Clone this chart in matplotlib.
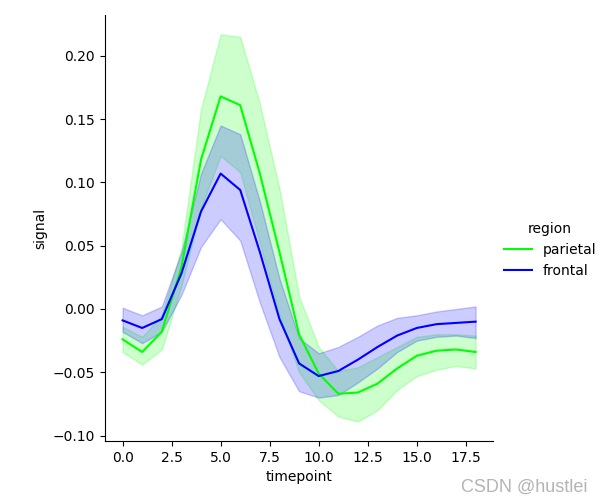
import matplotlib.pyplot as plt

timepoint = list(range(19))

# parietal
par_mean = [-0.024, -0.034, -0.018, 0.033, 0.118, 0.168, 0.161, 0.107, 0.045, -0.020,
            -0.051, -0.067, -0.066, -0.059, -0.047, -0.037, -0.033, -0.032, -0.034]
par_low = [-0.034, -0.044, -0.032, 0.018, 0.080, 0.121, 0.108, 0.052, -0.005, -0.050,
           -0.072, -0.085, -0.089, -0.080, -0.064, -0.053, -0.048, -0.045, -0.047]
par_high = [-0.014, -0.022, -0.005, 0.048, 0.158, 0.217, 0.215, 0.162, 0.095, 0.010,
            -0.030, -0.049, -0.046, -0.038, -0.030, -0.022, -0.020, -0.020, -0.021]

# frontal
fro_mean = [-0.009, -0.015, -0.008, 0.028, 0.077, 0.107, 0.094, 0.045, -0.008, -0.043,
            -0.053, -0.049, -0.040, -0.030, -0.021, -0.015, -0.012, -0.011, -0.010]
fro_low = [-0.018, -0.027, -0.018, 0.011, 0.049, 0.071, 0.054, 0.005, -0.038, -0.065,
           -0.070, -0.068, -0.058, -0.047, -0.034, -0.025, -0.022, -0.021, -0.023]
fro_high = [0.001, -0.005, 0.002, 0.045, 0.107, 0.145, 0.138, 0.085, 0.024, -0.023,
            -0.035, -0.030, -0.022, -0.013, -0.007, -0.005, -0.002, 0.000, 0.002]

fig = plt.figure(figsize=(6.03, 5.0), dpi=100)
ax = fig.add_axes([0.174, 0.118, 0.644, 0.852])

ax.plot(timepoint, par_mean, color='#00ff00', lw=1.5, label='parietal')
ax.fill_between(timepoint, par_low, par_high, color='#00ff00', alpha=0.2)
ax.plot(timepoint, fro_mean, color='#0000ff', lw=1.5, label='frontal')
ax.fill_between(timepoint, fro_low, fro_high, color='#0000ff', alpha=0.2)

ax.spines['top'].set_visible(False)
ax.spines['right'].set_visible(False)
ax.set_xlabel('timepoint')
ax.set_ylabel('signal')

fig.legend(title='region', loc='center left', bbox_to_anchor=(0.815, 0.5), frameon=False)

# watermark
fig.text(0.975, 0.016, 'CSDN @hustlei', ha='right', va='baseline', fontsize=13,
         family='Liberation Sans', color='#b4b4b4')

fig.savefig('out.png')
